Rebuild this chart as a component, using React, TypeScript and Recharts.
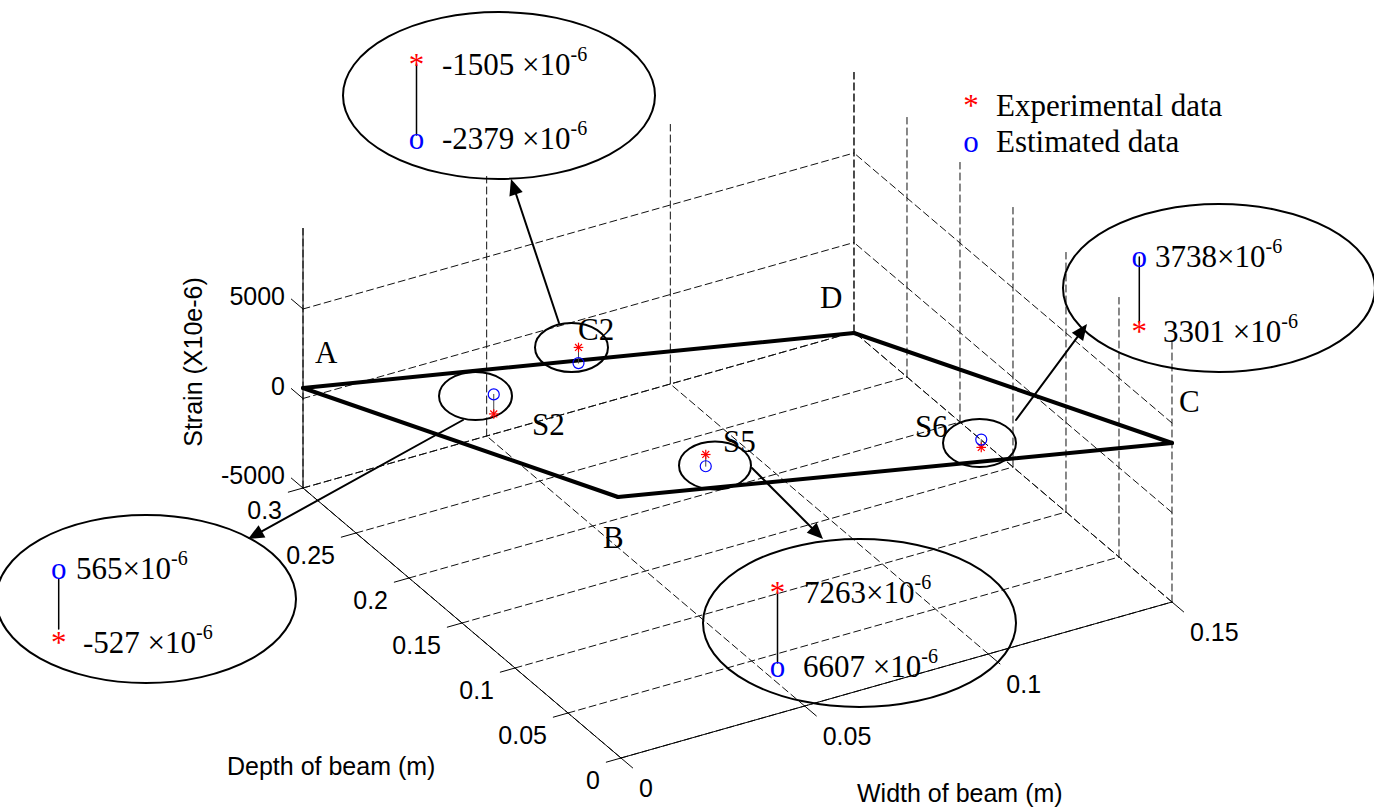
import React from 'react';
import { ScatterChart, Scatter, XAxis, YAxis, ReferenceLine, ReferenceDot } from 'recharts';

// ---------------- data ----------------
const seriesNames = ['Experimental data', 'Estimated data'];
const gaugeNames = ['S2', 'C2', 'S5', 'S6'];
const gaugeWidth = [0.0375, 0.075, 0.0375, 0.1125]; // m
const gaugeDepth = [0.25, 0.3, 0.05, 0.05]; // m
const experimentalStrain = [-527, -1505, 7263, 3301]; // x10^-6
const estimatedStrain = [565, -2379, 6607, 3738]; // x10^-6

const widthRange = [0, 0.15];
const depthRange = [0, 0.3];
const strainRange = [-5000, 9500];
const widthTicks = [0, 0.05, 0.1, 0.15];
const widthTickLabels = ['0', '0.05', '0.1', '0.15'];
const depthTicks = [0, 0.05, 0.1, 0.15, 0.2, 0.25, 0.3];
const depthTickLabels = ['0', '0.05', '0.1', '0.15', '0.2', '0.25', '0.3'];
const strainTicks = [-5000, 0, 5000];
const strainTickLabels = ['-5000', '0', '5000'];

// ---------------- view / layout ----------------
const W = 1374;
const H = 812;
// orthographic 3-D view: screen-plane coordinates of the chart's 2-D axes
const VIEW = { ox: 621, oy: 758, wx: 3673.3, wy: -1040, dx: -1060, dy: -900, sz: -0.0179 };
const project = (w: number, d: number, s: number) => ({
  x: VIEW.ox + w * VIEW.wx + d * VIEW.dx,
  y: VIEW.oy + w * VIEW.wy + d * VIEW.dy + (s - strainRange[0]) * VIEW.sz,
});

const SANS = '"Liberation Sans", Arial, Helvetica, sans-serif';
const SERIF = '"Liberation Serif", "Times New Roman", Times, serif';

// hand-drawn beam outline A-B-C-D (annotation layer, chart 2-D coords)
const plateOutline = [
  { x: 303, y: 388 },
  { x: 618, y: 497 },
  { x: 1172, y: 443 },
  { x: 854, y: 333 },
  { x: 303, y: 388 },
];
const cornerLetters = [
  { text: 'A', x: 315, y: 363 },
  { text: 'B', x: 603, y: 548 },
  { text: 'C', x: 1179, y: 412 },
  { text: 'D', x: 820, y: 308 },
];
const gaugeLabelPos = [
  { x: 532, y: 435 },
  { x: 578, y: 340 },
  { x: 723, y: 452 },
  { x: 915, y: 437 },
];
const smallRings = [
  { cx: 475.5, cy: 396, rx: 36.5, ry: 24 },
  { cx: 571.5, cy: 347.5, rx: 36.5, ry: 24.5 },
  { cx: 715, cy: 465.5, rx: 36, ry: 24 },
  { cx: 979.5, cy: 443, rx: 36.5, ry: 24 },
];
const callouts = [
  { cx: 146, cy: 599, rx: 150, ry: 84, mx: 58.7, topY: 579, botY: 653, topX: 76, botX: 83, lineTop: 579, lineBot: 629, topGap: false, botGap: true },
  { cx: 499, cy: 95.5, rx: 156, ry: 83.5, mx: 416.5, topY: 75, botY: 149, topX: 442, botX: 442, lineTop: 65, lineBot: 135, topGap: true, botGap: true },
  { cx: 859.5, cy: 623, rx: 156.5, ry: 84, mx: 777.5, topY: 603, botY: 677, topX: 804, botX: 803, lineTop: 593, lineBot: 663, topGap: false, botGap: true },
  { cx: 1219, cy: 288, rx: 156, ry: 84, mx: 1139.3, topY: 267, botY: 342, topX: 1155, botX: 1163, lineTop: 257, lineBot: 322, topGap: false, botGap: true },
];
const arrows = [
  { from: { x: 463, y: 420 }, to: { x: 248, y: 539 } },
  { from: { x: 559, y: 323 }, to: { x: 511, y: 179 } },
  { from: { x: 752, y: 468 }, to: { x: 823, y: 539 } },
  { from: { x: 1016, y: 420 }, to: { x: 1087, y: 324 } },
];
const legendPos = { markX: 971, textX: 996, y1: 116, y2: 152 };
const axisTitles = {
  strain: { text: 'Strain (X10e-6)', x: 193, y: 362 },
  depth: { text: 'Depth of beam (m)', x: 227, y: 775 },
  width: { text: 'Width of beam (m)', x: 857, y: 802 },
};

// ---------------- geometry built from data ----------------
type P = { x: number; y: number };
type Seg = [P, P];
const [w0, w1] = widthRange;
const [d0, d1] = depthRange;
const [s0, s1] = strainRange;

const gridSegs: Seg[] = [];
depthTicks.forEach((d) => gridSegs.push([project(w0, d, s0), project(w1, d, s0)]));
widthTicks.forEach((w) => gridSegs.push([project(w, d0, s0), project(w, d1, s0)]));
strainTicks.forEach((s) => gridSegs.push([project(w0, d1, s), project(w1, d1, s)]));
widthTicks.forEach((w) => gridSegs.push([project(w, d1, s0), project(w, d1, s1)]));
strainTicks.forEach((s) => gridSegs.push([project(w1, d0, s), project(w1, d1, s)]));
depthTicks.forEach((d) => gridSegs.push([project(w1, d, s0), project(w1, d, s1)]));

const axisSegs: Seg[] = [
  [project(w0, d1, s0), project(w0, d1, s1)],
  [project(w0, d0, s0), project(w0, d1, s0)],
  [project(w0, d0, s0), project(w1, d0, s0)],
];
const tickSegs: Seg[] = [
  ...strainTicks.map((s) => [project(w0, d1, s), project(w0, d1 + 0.011, s)] as Seg),
  ...depthTicks.map((d) => [project(w0, d, s0), project(w0 - 0.004, d, s0)] as Seg),
  ...widthTicks.map((w) => [project(w, d0, s0), project(w, d0 - 0.011, s0)] as Seg),
];

const expPts = gaugeNames.map((g, i) => ({ name: g, ...project(gaugeWidth[i], gaugeDepth[i], experimentalStrain[i]) }));
const estPts = gaugeNames.map((g, i) => ({ name: g, ...project(gaugeWidth[i], gaugeDepth[i], estimatedStrain[i]) }));

// ---------------- marks ----------------
const StarMark = (cx: number, cy: number, s = 4.8) => {
  const k = s * 0.72;
  return (
    <g stroke="#ff0000" strokeWidth={1.2}>
      <line x1={cx - s} y1={cy} x2={cx + s} y2={cy} />
      <line x1={cx} y1={cy - s} x2={cx} y2={cy + s} />
      <line x1={cx - k} y1={cy - k} x2={cx + k} y2={cy + k} />
      <line x1={cx - k} y1={cy + k} x2={cx + k} y2={cy - k} />
    </g>
  );
};
const starShape = (p: any) => StarMark(p.cx, p.cy);
const circleShape = (p: any) => <circle cx={p.cx} cy={p.cy} r={5.5} fill="none" stroke="#0000ff" strokeWidth={1.2} />;

let keyN = 0;
const seg = (s: Seg, stroke: string, width: number, dash?: string) => (
  <ReferenceLine
    key={'l' + keyN++}
    segment={[s[0], s[1]]}
    stroke={stroke}
    strokeWidth={width}
    strokeDasharray={dash}
    strokeLinecap="round"
    ifOverflow="visible"
  />
);
const at = (x: number, y: number, render: (cx: number, cy: number) => React.ReactElement) => (
  <ReferenceDot key={'d' + keyN++} x={x} y={y} r={1} ifOverflow="visible" shape={(p: any) => render(p.cx, p.cy)} />
);

const strainText = (v: number, gap: boolean) => `${v}${gap ? ' ' : ''}×10`;

export default function App() {
  keyN = 0;
  const els: React.ReactElement[] = [];

  // grid
  gridSegs.forEach((s) => els.push(seg(s, '#111', 1, '7 4')));
  // axes + ticks
  axisSegs.forEach((s) => els.push(seg(s, '#000', 1)));
  tickSegs.forEach((s) => els.push(seg(s, '#000', 1)));

  // tick labels
  strainTicks.forEach((s, i) => {
    const p = project(w0, d1, s);
    els.push(at(p.x, p.y, (cx, cy) => (
      <text x={cx - 18} y={cy - 13} textAnchor="end" dominantBaseline="central" fontFamily={SANS} fontSize={25} fill="#000">{strainTickLabels[i]}</text>
    )));
  });
  depthTicks.forEach((d, i) => {
    const p = project(w0, d, s0);
    els.push(at(p.x, p.y, (cx, cy) => (
      <text x={cx - 21} y={cy + 22} textAnchor="end" dominantBaseline="central" fontFamily={SANS} fontSize={25} fill="#000">{depthTickLabels[i]}</text>
    )));
  });
  widthTicks.forEach((w, i) => {
    const p = project(w, d0, s0);
    els.push(at(p.x, p.y, (cx, cy) => (
      <text x={cx + 18} y={cy + 30} textAnchor="start" dominantBaseline="central" fontFamily={SANS} fontSize={25} fill="#000">{widthTickLabels[i]}</text>
    )));
  });

  // axis titles
  const st = axisTitles.strain;
  els.push(at(st.x, st.y, (cx, cy) => (
    <text x={cx} y={cy} transform={`rotate(-90 ${cx} ${cy})`} textAnchor="middle" dominantBaseline="central" fontFamily={SANS} fontSize={25} fill="#000">{st.text}</text>
  )));
  [axisTitles.depth, axisTitles.width].forEach((t) => {
    els.push(at(t.x, t.y, (cx, cy) => (
      <text x={cx} y={cy} fontFamily={SANS} fontSize={25} fill="#000">{t.text}</text>
    )));
  });

  // beam outline
  for (let i = 0; i < plateOutline.length - 1; i++) {
    els.push(seg([plateOutline[i], plateOutline[i + 1]], '#000', 4));
  }

  // connector between experimental and estimated points
  gaugeNames.forEach((_, i) => els.push(seg([expPts[i], estPts[i]], '#444', 1)));

  // small rings and labels around gauges
  smallRings.forEach((r) => {
    els.push(at(r.cx, r.cy, (cx, cy) => <ellipse cx={cx} cy={cy} rx={r.rx} ry={r.ry} fill="none" stroke="#000" strokeWidth={2} />));
  });
  gaugeNames.forEach((g, i) => {
    const lp = gaugeLabelPos[i];
    els.push(at(lp.x, lp.y, (cx, cy) => <text x={cx} y={cy} fontFamily={SERIF} fontSize={31} fill="#000">{g}</text>));
  });
  cornerLetters.forEach((c) => {
    els.push(at(c.x, c.y, (cx, cy) => <text x={cx} y={cy} fontFamily={SERIF} fontSize={31} fill="#000">{c.text}</text>));
  });

  // arrows
  arrows.forEach((a) => {
    const dx = a.to.x - a.from.x;
    const dy = a.to.y - a.from.y;
    const len = Math.sqrt(dx * dx + dy * dy);
    const ux = dx / len;
    const uy = dy / len;
    const end = { x: a.to.x - ux * 10, y: a.to.y - uy * 10 };
    els.push(seg([a.from, end], '#000', 2));
    const ang = (Math.atan2(dy, dx) * 180) / Math.PI;
    els.push(at(a.to.x, a.to.y, (cx, cy) => (
      <polygon points={`${cx},${cy} ${cx - 16},${cy - 7} ${cx - 16},${cy + 7}`} fill="#000" transform={`rotate(${ang} ${cx} ${cy})`} />
    )));
  });

  // callouts
  callouts.forEach((c, i) => {
    const exp = experimentalStrain[i];
    const est = estimatedStrain[i];
    const expTop = exp > est;
    const topVal = expTop ? exp : est;
    const botVal = expTop ? est : exp;
    els.push(at(c.cx, c.cy, (cx, cy) => <ellipse cx={cx} cy={cy} rx={c.rx} ry={c.ry} fill="none" stroke="#000" strokeWidth={2} />));
    els.push(seg([{ x: c.mx, y: c.lineTop }, { x: c.mx, y: c.lineBot }], '#000', 1.5));
    const mark = (isExp: boolean, y: number) =>
      at(c.mx, y, (cx, cy) => (
        <text x={cx} y={cy} textAnchor="middle" fontFamily={SERIF} fontSize={31} fill={isExp ? '#ff0000' : '#0000ff'}>{isExp ? '*' : 'o'}</text>
      ));
    els.push(mark(expTop, c.topY));
    els.push(mark(!expTop, c.botY));
    const valueText = (v: number, gap: boolean, x: number, y: number) =>
      at(x, y, (cx, cy) => (
        <text x={cx} y={cy} fontFamily={SERIF} fontSize={31} fill="#000">
          {strainText(v, gap)}
          <tspan dy={-14} fontSize={20}>-6</tspan>
        </text>
      ));
    els.push(valueText(topVal, c.topGap, c.topX, c.topY));
    els.push(valueText(botVal, c.botGap, c.botX, c.botY));
  });

  // legend
  els.push(at(legendPos.markX, legendPos.y1, (cx, cy) => <text x={cx} y={cy} textAnchor="middle" fontFamily={SERIF} fontSize={31} fill="#ff0000">*</text>));
  els.push(at(legendPos.markX, legendPos.y2, (cx, cy) => <text x={cx} y={cy} textAnchor="middle" fontFamily={SERIF} fontSize={31} fill="#0000ff">o</text>));
  els.push(at(legendPos.textX, legendPos.y1, (cx, cy) => <text x={cx} y={cy} fontFamily={SERIF} fontSize={31} fill="#000">{seriesNames[0]}</text>));
  els.push(at(legendPos.textX, legendPos.y2, (cx, cy) => <text x={cx} y={cy} fontFamily={SERIF} fontSize={31} fill="#000">{seriesNames[1]}</text>));

  return (
    <div style={{ position: 'absolute', left: 0, top: 0, width: W, height: H, background: '#fff' }}>
      <ScatterChart width={W} height={H} margin={{ top: 0, right: 0, bottom: 0, left: 0 }}>
        <XAxis type="number" dataKey="x" domain={[0, W]} hide allowDataOverflow />
        <YAxis type="number" dataKey="y" domain={[0, H]} reversed hide allowDataOverflow width={0} />
        {els}
        <Scatter name={seriesNames[0]} data={expPts} shape={starShape} isAnimationActive={false} />
        <Scatter name={seriesNames[1]} data={estPts} shape={circleShape} isAnimationActive={false} />
      </ScatterChart>
    </div>
  );
}
